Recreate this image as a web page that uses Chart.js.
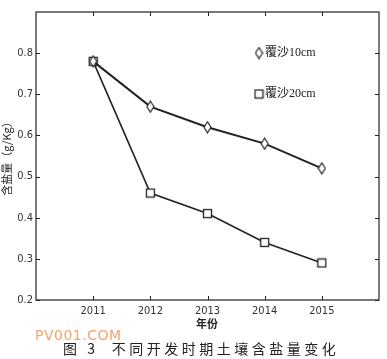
<!DOCTYPE html>
<html>
<head>
<meta charset="utf-8">
<script src="https://cdn.jsdelivr.net/npm/chart.js@4.4.0/dist/chart.umd.min.js"></script>
<style>
  html, body { margin: 0; padding: 0; background: #fff; }
  #wrap { position: relative; width: 387px; height: 359px; }
  #chart { position: absolute; left: 0; top: 0; }
  #mark { position: absolute; left: 35px; top: 327px; font: 14px "DejaVu Sans", sans-serif; color: #f2a46c; letter-spacing: 0.5px; }
  #caption { position: absolute; left: 63px; top: 338px; font: 14px "Noto Sans CJK SC", serif; color: #222; letter-spacing: 3.5px; white-space: pre; }
</style>
</head>
<body>
<div id="wrap">
  <canvas id="chart" width="387" height="359"></canvas>
  <div id="mark">PV001.COM</div>
  <div id="caption">图 3  不同开发时期土壤含盐量变化</div>
</div>
<script>
var years = [2011, 2012, 2013, 2014, 2015];
var sand10 = [0.78, 0.67, 0.62, 0.58, 0.52];
var sand20 = [0.78, 0.46, 0.41, 0.34, 0.29];
var yTicks = [0.2, 0.3, 0.4, 0.5, 0.6, 0.7, 0.8];
var labels = ['覆沙10cm', '覆沙20cm'];
var xTitle = '年份';

var ink = '#222';

// marker images
function makeDiamond() {
    var c = document.createElement('canvas');
    c.width = 9; c.height = 13;
    var g = c.getContext('2d');
    g.beginPath();
    g.moveTo(4.5, 1); g.lineTo(8, 6.5); g.lineTo(4.5, 12); g.lineTo(1, 6.5); g.closePath();
    g.fillStyle = '#fff'; g.fill();
    g.strokeStyle = ink; g.lineWidth = 1.2; g.stroke();
    return c;
}
function makeSquare() {
    var c = document.createElement('canvas');
    c.width = 11; c.height = 11;
    var g = c.getContext('2d');
    g.fillStyle = '#fff'; g.fillRect(1, 1, 9, 9);
    g.strokeStyle = ink; g.lineWidth = 1.3; g.strokeRect(1.5, 1.5, 8, 8);
    return c;
}
var diamond = makeDiamond();
var square = makeSquare();

function pts(vals) {
    var out = [];
    for (var i = 0; i < years.length; i++) out.push({ x: years[i], y: vals[i] });
    return out;
}

var tickFont = { family: '"Liberation Sans Narrow", "DejaVu Sans Condensed", sans-serif', size: 11 };

var frame = {
    id: 'frame',
    afterDatasetsDraw: function (chart) {
        var ctx = chart.ctx, a = chart.chartArea;
        var xs = chart.scales.x, ys = chart.scales.y;
        ctx.save();
        ctx.strokeStyle = ink;
        ctx.lineWidth = 1.2;
        ctx.strokeRect(a.left, a.top, a.right - a.left, a.bottom - a.top);
        ctx.beginPath();
        years.forEach(function (yr) {
            var px = Math.round(xs.getPixelForValue(yr)) + 0.5;
            ctx.moveTo(px, a.bottom); ctx.lineTo(px, a.bottom - 4);
            ctx.moveTo(px, a.top); ctx.lineTo(px, a.top + 4);
        });
        yTicks.forEach(function (v) {
            var py = Math.round(ys.getPixelForValue(v)) + 0.5;
            ctx.moveTo(a.left, py); ctx.lineTo(a.left + 4, py);
            ctx.moveTo(a.right, py); ctx.lineTo(a.right - 4, py);
        });
        ctx.lineWidth = 1;
        ctx.stroke();

        // x axis title
        ctx.font = 'bold 11px "Noto Sans CJK SC", sans-serif';
        ctx.fillStyle = '#222';
        ctx.textAlign = 'center';
        ctx.textBaseline = 'middle';
        ctx.fillText(xTitle, (a.left + a.right) / 2 - 0.5, a.bottom + 24);

        // legend inside the plot
        ctx.font = '12px "Liberation Serif", "Noto Sans CJK SC", serif';
        ctx.textAlign = 'left';
        var marks = [diamond, square];
        for (var i = 0; i < labels.length; i++) {
            var ly = a.top + 41 + i * 41;
            var m = marks[i];
            ctx.drawImage(m, 259 - m.width / 2, ly - m.height / 2);
            ctx.fillText(labels[i], 265, ly);
        }
        ctx.restore();
    }
};

var ctx = document.getElementById('chart').getContext('2d');
var chart = new Chart(ctx, {
    type: 'line',
    data: {
        datasets: [{
            label: labels[0],
            data: pts(sand10),
            borderColor: ink,
            borderWidth: 2,
            pointStyle: diamond,
            pointRadius: 5,
            tension: 0
        }, {
            label: labels[1],
            data: pts(sand20),
            borderColor: ink,
            borderWidth: 1.6,
            pointStyle: square,
            pointRadius: 5,
            tension: 0
        }]
    },
    options: {
        responsive: false,
        animation: false,
        layout: { padding: { top: 12, right: 8, left: 0, bottom: 0 } },
        plugins: {
            legend: { display: false },
            tooltip: { enabled: false }
        },
        scales: {
            x: {
                type: 'linear',
                min: 2010,
                max: 2016,
                afterBuildTicks: function (s) {
                    s.ticks = years.map(function (v) { return { value: v }; });
                },
                afterFit: function (s) { s.height = 59; },
                grid: { display: false, drawTicks: false },
                border: { display: false },
                ticks: {
                    padding: 5,
                    color: '#333',
                    font: tickFont,
                    callback: function (v) { return String(v); }
                }
            },
            y: {
                min: 0.2,
                max: 0.9,
                afterBuildTicks: function (s) {
                    s.ticks = yTicks.map(function (v) { return { value: v }; });
                },
                afterFit: function (s) { s.width = 36; },
                grid: { display: false, drawTicks: false },
                border: { display: false },
                ticks: {
                    padding: 3,
                    color: '#333',
                    font: tickFont,
                    callback: function (v) { return v.toFixed(1); }
                },
                title: {
                    display: true,
                    text: '含盐量（g/Kg）',
                    color: '#222',
                    padding: 0,
                    font: { family: '"Noto Sans CJK SC", sans-serif', size: 11 }
                }
            }
        }
    },
    plugins: [frame]
});
</script>
</body>
</html>
